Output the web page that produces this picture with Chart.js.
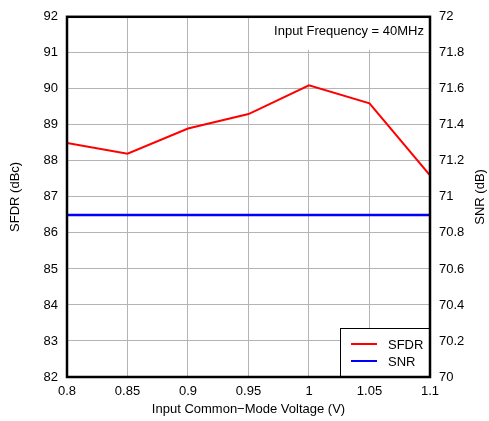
<!DOCTYPE html>
<html>
<head>
<meta charset="utf-8">
<script src="https://cdn.jsdelivr.net/npm/chart.js@4"></script>
<style>
  html, body { margin: 0; padding: 0; background: #fff; }
  canvas { display: block; }
</style>
</head>
<body>
<canvas id="chart" width="489" height="421"></canvas>
<script>
const voltages = [0.8, 0.85, 0.9, 0.95, 1.0, 1.05, 1.1];
const sfdr = [88.5, 88.2, 88.9, 89.3, 90.1, 89.6, 87.6];
const snr = [70.9, 70.9, 70.9, 70.9, 70.9, 70.9, 70.9];
const noteText = 'Input Frequency = 40MHz';
const rightTitle = 'SNR (dB)';

const FONT = "'Liberation Sans', Arial, Helvetica, sans-serif";
Chart.defaults.font.family = FONT;
Chart.defaults.font.size = 13;
Chart.defaults.color = '#000';

const toPoints = (ys) => voltages.map((x, i) => ({ x, y: ys[i] }));

// white note box + text in the top right of the plot
const notePlugin = {
  id: 'note',
  beforeDatasetsDraw(chart) {
    const { ctx, chartArea: a } = chart;
    ctx.save();
    ctx.fillStyle = '#fff';
    ctx.fillRect(a.right - 170, a.top, 170, 33);
    ctx.fillStyle = '#000';
    ctx.font = '13px ' + FONT;
    ctx.textAlign = 'right';
    ctx.textBaseline = 'middle';
    ctx.fillText(noteText, a.right - 6, a.top + 15);
    ctx.restore();
  }
};

// frame, legend box and right axis title (reads bottom to top)
const framePlugin = {
  id: 'frame',
  afterDatasetsDraw(chart) {
    const { ctx, chartArea: a } = chart;
    ctx.save();
    // legend
    const lx = a.right - 90, ly = a.bottom - 49;
    ctx.fillStyle = '#fff';
    ctx.fillRect(lx, ly, 90, 49);
    ctx.strokeStyle = '#000';
    ctx.lineWidth = 1;
    ctx.strokeRect(lx + 0.5, ly + 0.5, 90, 49);
    ctx.font = '13px ' + FONT;
    ctx.textBaseline = 'middle';
    ctx.textAlign = 'left';
    chart.data.datasets.forEach((ds, i) => {
      const y = ly + 16 + i * 17;
      ctx.strokeStyle = ds.borderColor;
      ctx.lineWidth = 2;
      ctx.beginPath();
      ctx.moveTo(lx + 11, y);
      ctx.lineTo(lx + 37, y);
      ctx.stroke();
      ctx.fillStyle = '#000';
      ctx.fillText(ds.label, lx + 48, y + 1);
    });
    // plot frame
    ctx.strokeStyle = '#000';
    ctx.lineWidth = 2.5;
    ctx.strokeRect(a.left, a.top, a.right - a.left, a.bottom - a.top);
    // right title
    ctx.translate(480, (a.top + a.bottom) / 2);
    ctx.rotate(-Math.PI / 2);
    ctx.fillStyle = '#000';
    ctx.textAlign = 'center';
    ctx.fillText(rightTitle, 0, 0);
    ctx.restore();
  }
};

new Chart(document.getElementById('chart'), {
  type: 'line',
  data: {
    datasets: [
      {
        label: 'SFDR',
        data: toPoints(sfdr),
        yAxisID: 'y',
        borderColor: '#ff0000',
        borderWidth: 2,
        pointRadius: 0,
        tension: 0,
      },
      {
        label: 'SNR',
        data: toPoints(snr),
        yAxisID: 'y2',
        borderColor: '#0000ff',
        borderWidth: 2.5,
        pointRadius: 0,
        tension: 0,
      },
    ],
  },
  options: {
    responsive: false,
    animation: false,
    layout: { padding: { top: 12, left: 0, right: 0, bottom: 0 } },
    plugins: {
      legend: { display: false },
      tooltip: { enabled: false },
    },
    scales: {
      x: {
        type: 'linear',
        min: 0.8,
        max: 1.1,
        afterFit: (s) => { s.height = 44; },
        ticks: {
          stepSize: 0.05,
          padding: 7,
          maxRotation: 0,
          callback: (v) => String(+v.toFixed(2)),
        },
        grid: { color: '#b4b4b4', lineWidth: 1, drawTicks: false },
        border: { display: false },
        title: {
          display: true,
          text: 'Input Common\u2212Mode Voltage (V)',
          padding: { top: 0, bottom: 4 },
          font: { size: 13 },
        },
      },
      y: {
        position: 'left',
        min: 82,
        max: 92,
        afterFit: (s) => { s.width = 67; },
        ticks: { stepSize: 1, padding: 9 },
        grid: { color: '#b4b4b4', lineWidth: 1, drawTicks: false },
        border: { display: false },
        title: {
          display: true,
          text: 'SFDR (dBc)',
          padding: { top: 8, bottom: 0 },
        },
      },
      y2: {
        position: 'right',
        min: 70,
        max: 72,
        afterFit: (s) => { s.width = 59; },
        ticks: {
          stepSize: 0.2,
          padding: 9,
          callback: (v) => String(+v.toFixed(1)),
        },
        grid: { drawOnChartArea: false, drawTicks: false },
        border: { display: false },
        title: { display: false },
      },
    },
  },
  plugins: [notePlugin, framePlugin],
});
</script>
</body>
</html>
